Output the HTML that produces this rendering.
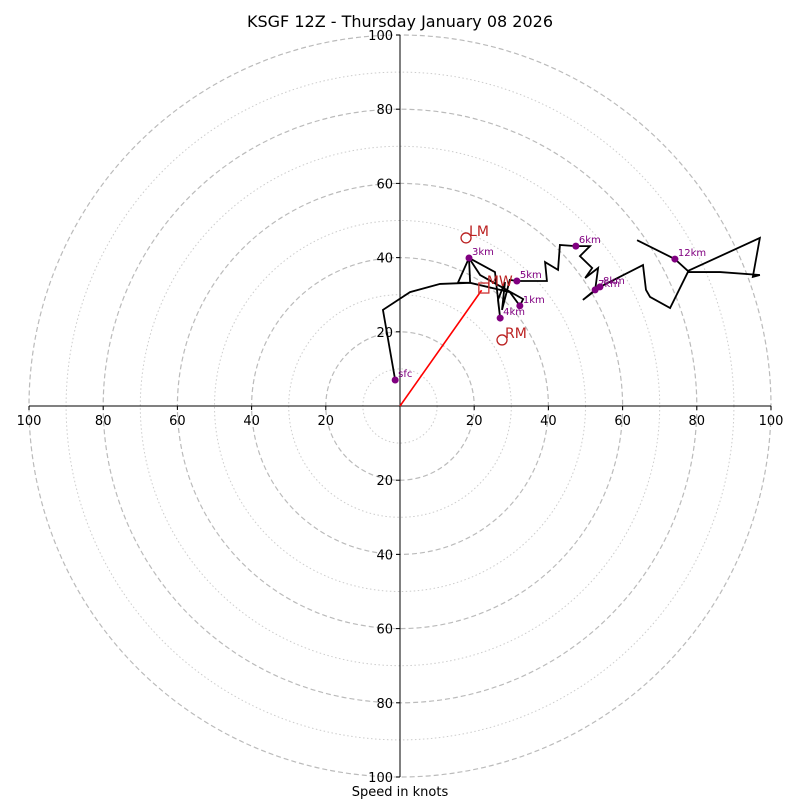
<!DOCTYPE html>
<html><head><meta charset="utf-8"><style>
body{margin:0;background:#fff;}
svg text{font-family:"DejaVu Sans","Liberation Sans",sans-serif;}
</style></head><body>
<svg id="chart" width="800" height="800" viewBox="0 0 800 800">
<text x="400" y="27" text-anchor="middle" font-size="16">KSGF 12Z - Thursday January 08 2026</text>
<text x="400" y="796" text-anchor="middle" font-size="13">Speed in knots</text>
<g id="grid"></g><g id="axes"></g><g id="plot"></g>
</svg>
<script>
const ringValues=[10,20,30,40,50,60,70,80,90,100];
const tickLabels=[20,40,60,80,100];
const traceU=[-1.3,-4.6,2.7,10.8,18.9,29.6,32.3,33.2,21.6,18.6,15.6,18.9,18.6,25.6,27.0,26.4,28.3,27.5,29.6,31.5,39.6,39.1,42.6,43.1,47.4,51.2,48.5,51.8,49.9,53.4,52.6,49.3,53.9,65.5,66.3,67.4,72.8,77.6,86.3,97.0,95.1,97.0,77.6,74.1,63.9];
const traceV=[7.0,25.9,30.7,32.9,33.2,30.7,27.0,28.8,35.3,39.9,33.2,33.2,39.9,36.1,23.7,28.6,33.4,25.9,34.0,33.7,33.7,38.8,36.7,43.4,43.1,43.1,40.4,37.2,34.5,37.2,31.3,28.6,32.1,38.0,31.3,29.4,26.4,36.1,36.1,35.3,34.8,45.3,36.4,39.6,44.7];
const markerLabels=["sfc","1km","3km","4km","5km","6km","7km","8km","12km"];
const markerU=[-1.3,32.3,18.6,27.0,31.5,47.4,52.6,53.9,74.1];
const markerV=[7.0,27.0,39.9,23.7,33.7,43.1,31.3,32.1,39.6];
const stormLabels=["LM","RM","MW"];
const stormU=[17.8,27.5,22.6];
const stormV=[45.3,17.8,31.8];

const NS="http://www.w3.org/2000/svg";
const cx=400,cy=406,R=371,MAX=100;
const sx=u=>cx+u/MAX*R, sy=v=>cy-v/MAX*R;
function mk(tag,attrs,parent){const e=document.createElementNS(NS,tag);for(const k in attrs)e.setAttribute(k,attrs[k]);parent.appendChild(e);return e;}
const grid=document.getElementById('grid'),axes=document.getElementById('axes'),plot=document.getElementById('plot');
ringValues.forEach(r=>{
  const c=mk('circle',{cx:cx,cy:cy,r:r/MAX*R,fill:'none',stroke:r%20===0?'#bbb':'#ccc','stroke-width':r%20===0?1.2:1,'stroke-dasharray':r%20===0?'5,3':'1.5,2.5'},grid);
  
  
});
const ha=mk('line',{x1:cx-R,y1:cy,x2:cx+R,y2:cy,stroke:'#000','stroke-width':1},axes);


const va=mk('line',{x1:cx,y1:cy-R,x2:cx,y2:cy+R,stroke:'#000','stroke-width':1},axes);


tickLabels.forEach(t=>{
  [[sx(t),cy],[sx(-t),cy]].forEach(([x,y])=>{
    mk('line',{x1:x,y1:y,x2:x,y2:y+4,stroke:'#000'},axes);
    const tx=mk('text',{x:x,y:y+19,'text-anchor':'middle','font-size':13},axes);tx.textContent=t;
    
    
  });
  [sy(t),sy(-t)].forEach(y=>{
    mk('line',{x1:cx-4,y1:y,x2:cx,y2:y,stroke:'#000'},axes);
    const tx=mk('text',{x:cx-7,y:y+5,'text-anchor':'end','font-size':13},axes);tx.textContent=t;
    
    
  });
});
// mean wind vector
const mw=mk('line',{x1:sx(0),y1:sy(0),x2:sx(stormU[2]-0.6),y2:sy(stormV[2]-0.6),stroke:'red','stroke-width':1.6},plot);


const trace=mk('polyline',{points:traceU.map((u,i)=>sx(u)+','+sy(traceV[i])).join(' '),fill:'none',stroke:'#000','stroke-width':1.8,'stroke-linejoin':'miter'},plot);


markerLabels.forEach((l,i)=>{
  const d=mk('circle',{cx:sx(markerU[i]),cy:sy(markerV[i]),r:3.5,fill:'purple'},plot);
  
  
  const t=mk('text',{x:sx(markerU[i])+3,y:sy(markerV[i])-3,'font-size':10,fill:'purple'},plot);t.textContent=l;
  
  
});
stormLabels.forEach((l,i)=>{
  const x=sx(stormU[i]),y=sy(stormV[i]);
  let m;
  if(l==='MW') m=mk('rect',{x:x-5,y:y-5,width:10,height:10,fill:'none',stroke:'#c33','stroke-width':1.3},plot);
  else m=mk('circle',{cx:x,cy:y,r:5,fill:'none',stroke:'#b22','stroke-width':1.3},plot);
  
  
  const t=mk('text',{x:x+3,y:y-2,'font-size':14,fill:'#b22'},plot);t.textContent=l;
  
  
});
</script>
</body></html>
